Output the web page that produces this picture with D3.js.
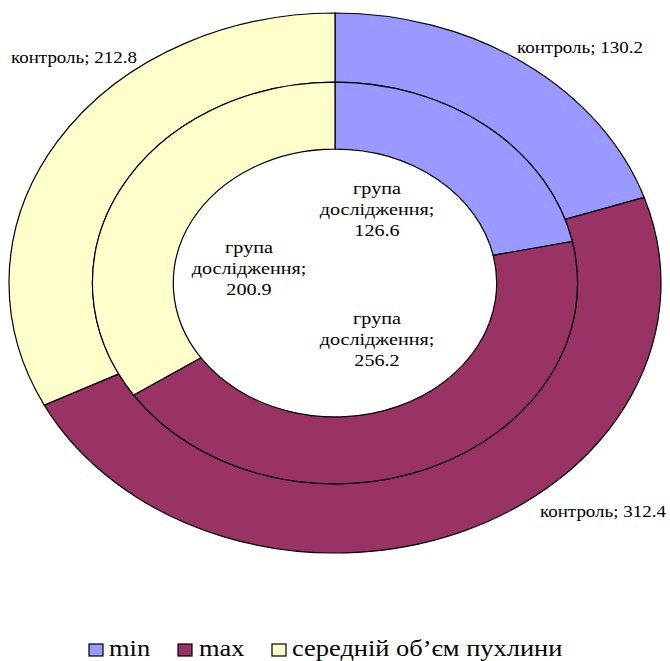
<!DOCTYPE html>
<html>
<head>
<meta charset="utf-8">
<script src="https://cdn.jsdelivr.net/npm/d3@7"></script>
<style>
  html, body { margin: 0; padding: 0; background: #fff; }
  svg { display: block; }
</style>
</head>
<body>
<svg id="chart" width="670" height="661"></svg>
<script>
// Series and their values (outer ring: контроль, inner ring: група дослідження)
const categories = ["min", "max", "середній об\u2019єм пухлини"];
const colors = ["#9999FF", "#993366", "#FFFFCC"];
const controlValues = [130.2, 312.4, 212.8];
const groupValues = [126.6, 256.2, 200.9];
const controlName = "контроль";
const groupNameLines = ["група", "дослідження;"];

const FONT = "'Liberation Serif', 'Times New Roman', serif";
const SX = 1.15;              // text is drawn slightly wide, like the rings
const svg = d3.select("#chart");
const cx = 335, cy = 283;
const rx = 326, ry = 270;
const R = rx;                 // arcs drawn on a circle, then squashed vertically
const outerRing = [0.744 * R, R];
const innerRing = [0.496 * R, 0.744 * R];

const pie = d3.pie().sort(null).value(d => d);
const color = d3.scaleOrdinal().domain(d3.range(categories.length)).range(colors);

const g = svg.append("g")
  .attr("transform", `translate(${cx},${cy}) scale(1,${ry / rx})`);

function ring(values, radii, cls) {
  const arc = d3.arc().innerRadius(radii[0]).outerRadius(radii[1]);
  g.selectAll("path." + cls)
    .data(pie(values))
    .join("path")
    .attr("class", cls)
    .attr("d", arc)
    .attr("fill", (d, i) => color(i))
    .attr("stroke", "#000")
    .attr("stroke-width", 1.2)
    .attr("vector-effect", "non-scaling-stroke");
}
ring(controlValues, outerRing, "outer");
ring(groupValues, innerRing, "inner");

function wideText(parent, x, y, size, anchor) {
  return parent.append("text")
    .attr("transform", `translate(${x},${y}) scale(${SX},1)`)
    .attr("text-anchor", anchor)
    .attr("font-family", FONT)
    .attr("font-size", size)
    .attr("fill", "#000");
}

// Outer ring labels (placed outside the ring)
const outerLabelPos = [
  { x: 517, y: 53, bg: true },
  { x: 540, y: 517 },
  { x: 11, y: 63 }
];
controlValues.forEach((v, i) => {
  const p = outerLabelPos[i];
  const t = wideText(svg, p.x, p.y, 16.5, "start").text(`${controlName}; ${v}`);
  if (p.bg) {
    const b = t.node().getBBox();
    svg.insert("rect", "text")
      .attr("x", p.x + b.x * SX + 2).attr("y", p.y + b.y + 2)
      .attr("width", b.width * SX).attr("height", b.height)
      .attr("fill", "#fff");
  }
});

// Inner ring labels (inside the hole, three lines each)
const innerLabelPos = [
  { x: 377, y: 194 },
  { x: 377, y: 324 },
  { x: 249, y: 253 }
];
groupValues.forEach((v, i) => {
  const p = innerLabelPos[i];
  const lines = [...groupNameLines, String(v)];
  lines.forEach((ln, k) => {
    wideText(svg, p.x, p.y + k * 20.8, 17.5, "middle").text(ln);
  });
});

// Legend
const legendX = [89, 178, 272];
const legendTextX = [109, 199, 292];
const legend = svg.append("g");
categories.forEach((c, i) => {
  legend.append("rect")
    .attr("x", legendX[i]).attr("y", 644)
    .attr("width", 14).attr("height", 12)
    .attr("fill", colors[i])
    .attr("stroke", "#000").attr("stroke-width", 1.2);
  wideText(legend, legendTextX[i], 656, 23, "start").text(c);
});
</script>
</body>
</html>
